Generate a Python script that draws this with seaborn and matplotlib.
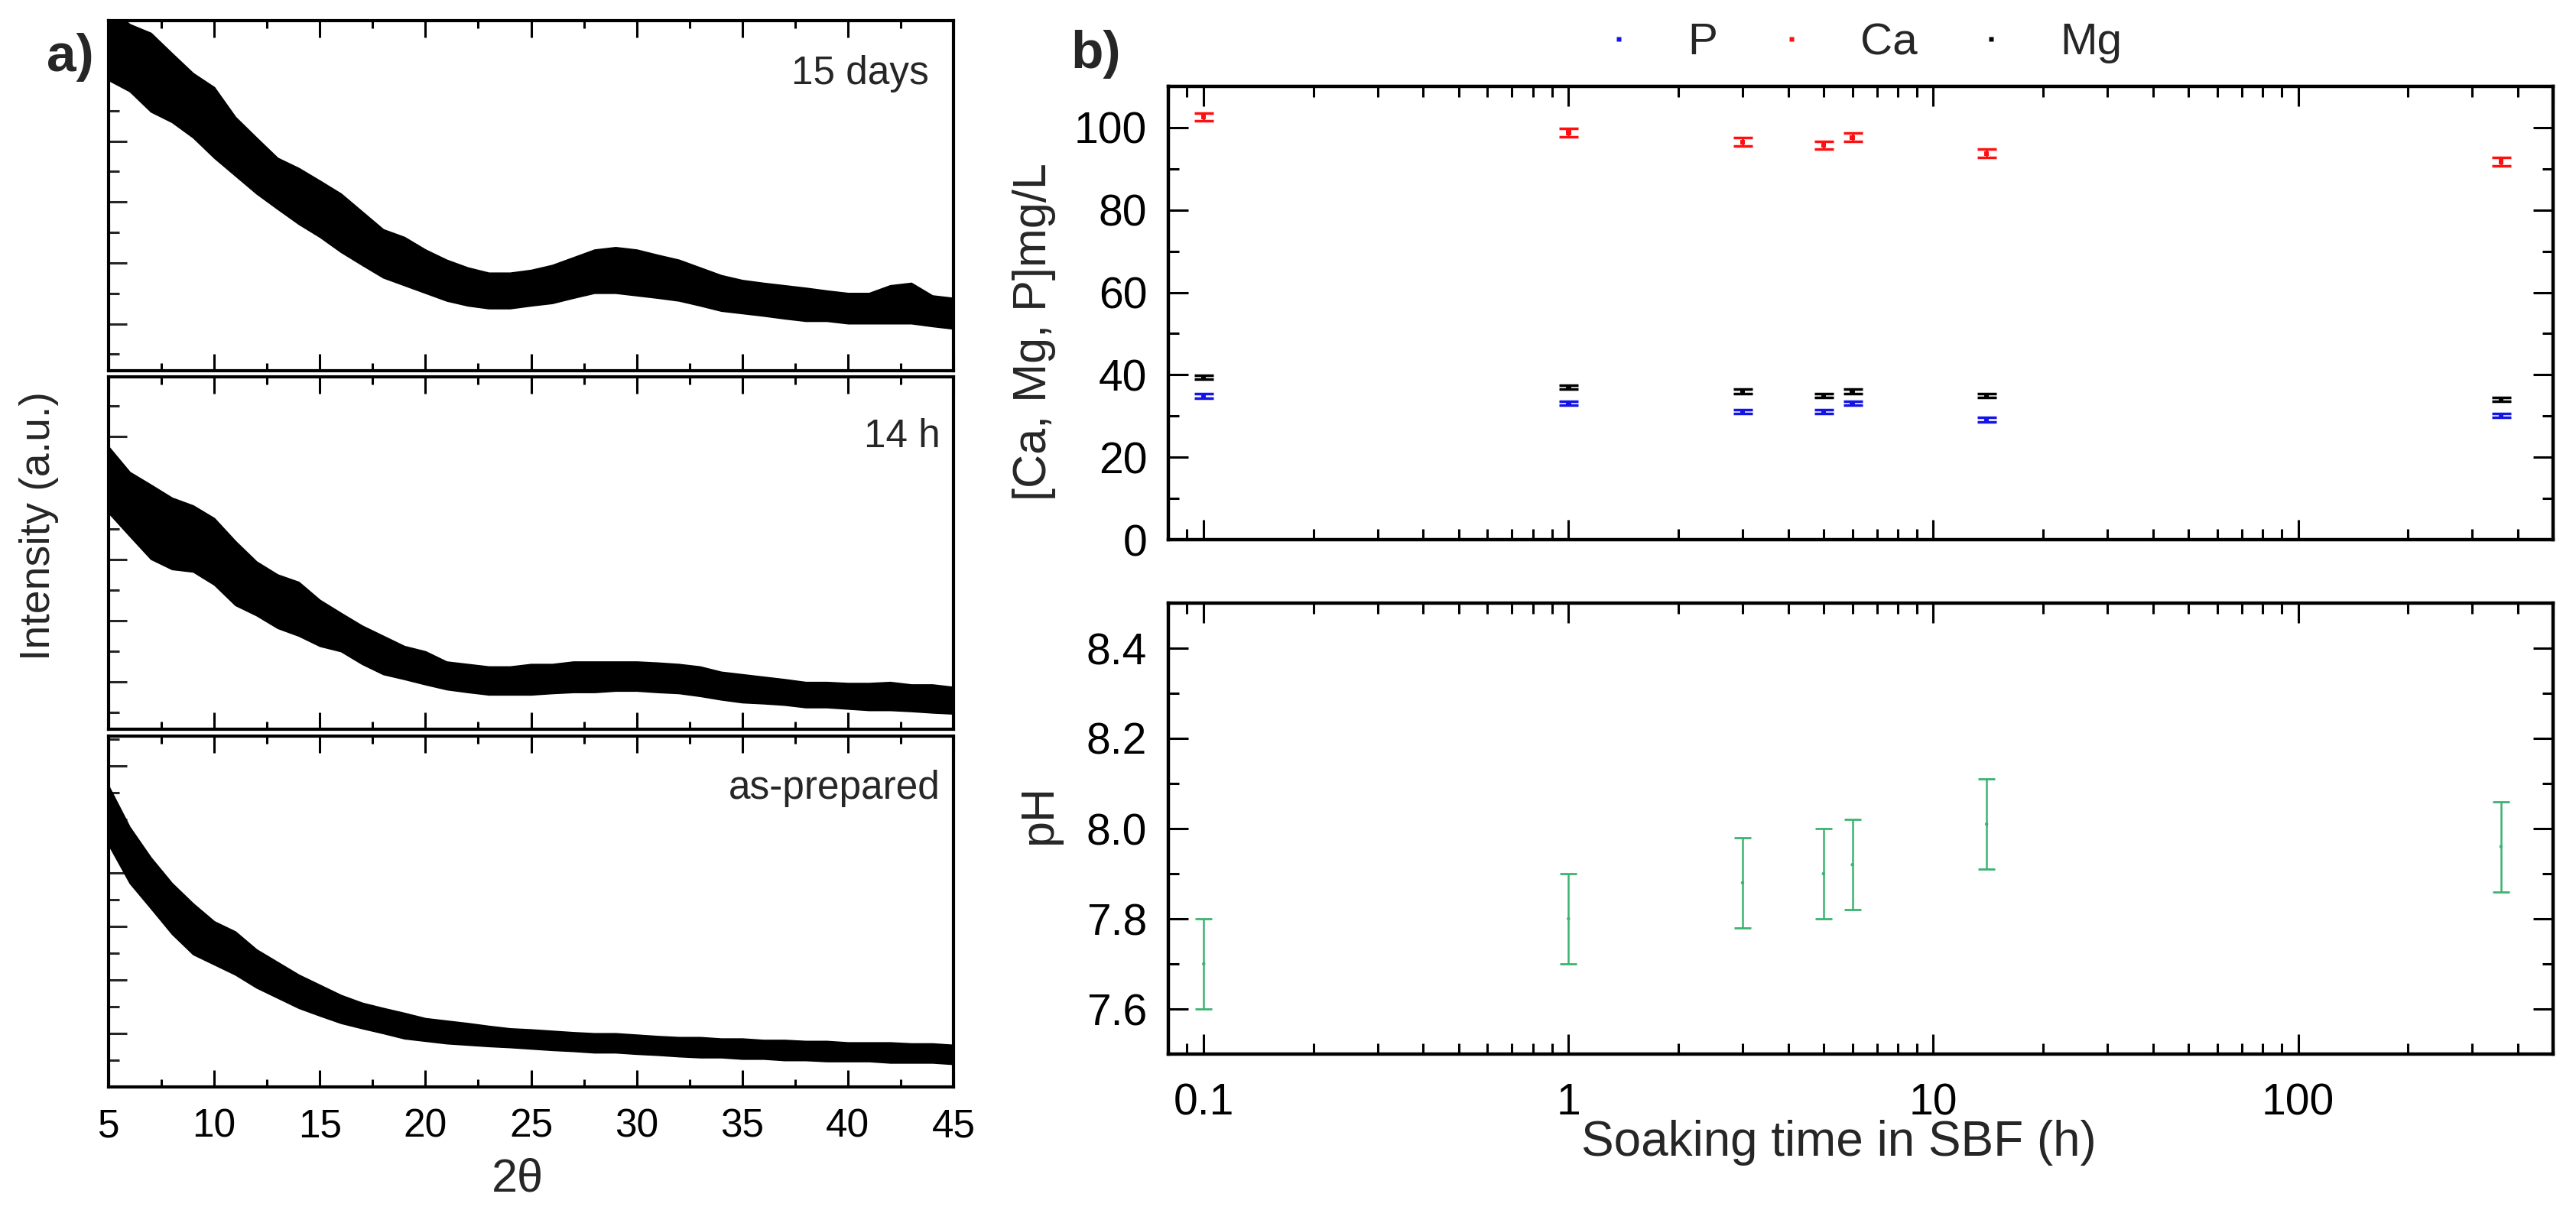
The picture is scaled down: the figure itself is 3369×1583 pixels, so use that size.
import numpy as np
import pandas as pd
import seaborn as sns
import matplotlib.pyplot as plt
from matplotlib.ticker import MultipleLocator, FixedLocator, LogLocator, NullFormatter, FixedFormatter

# ---- panel a) XRD envelopes (percent of panel height) ----
two_theta = list(range(5, 46))
days15_upper = [104, 99, 96.5, 90.7, 85, 81, 72.5, 66.6, 60.8, 57.9, 54.3, 50.6, 45.5, 40.4,
                38.2, 34.6, 31.7, 29.5, 28, 28, 28.8, 30.2, 32.4, 34.6, 35.3, 34.6, 33.1, 31.7,
                29.5, 27.3, 25.9, 25.1, 24.4, 23.7, 22.9, 22.2, 22.2, 24.4, 25.1, 21.5, 20.8]
days15_lower = [83, 79.8, 74, 71, 66.6, 60.8, 55.7, 50.6, 46.2, 41.9, 38.2, 33.9, 30.2, 26.6,
                24.4, 22.2, 20, 18.6, 17.8, 17.8, 18.6, 19.3, 20.8, 22.2, 22.2, 21.5, 20.8, 20,
                18.6, 17.1, 16.4, 15.7, 14.9, 14.2, 14.2, 13.5, 13.5, 13.5, 13.5, 12.7, 12]
h14_upper = [80.2, 73, 69.4, 65.7, 63.5, 59.9, 53.4, 47.6, 43.9, 41.8, 36.7, 33, 29.4, 26.5,
             23.6, 22.1, 19.2, 18.5, 17.8, 17.8, 18.5, 18.5, 19.2, 19.2, 19.2, 19.2, 18.9, 18.5,
             17.8, 16.3, 15.6, 14.9, 14.2, 13.4, 13.4, 13.1, 13.1, 13.4, 12.7, 12.7, 12]
h14_lower = [61.4, 54.8, 48.3, 45.4, 44.7, 41, 35.2, 32.3, 28.7, 26.5, 23.6, 22.1, 18.5, 15.6,
             14.2, 12.7, 11.3, 10.5, 9.8, 9.8, 9.8, 10.2, 10.5, 10.5, 10.9, 10.9, 10.5, 10.2,
             9.4, 8.4, 7.6, 7.3, 6.9, 6.2, 6.2, 5.8, 5.4, 5.4, 5.1, 4.7, 4.4]
prep_upper = [85.8, 74.1, 65.4, 58.1, 52.3, 47.2, 44.3, 39.2, 35.6, 32, 29.1, 26.2, 24, 22.5,
              21.1, 19.6, 18.9, 18.2, 17.4, 16.7, 16.4, 16, 15.6, 15.3, 15.3, 14.9, 14.5, 14.2,
              14.2, 13.8, 13.8, 13.4, 13.4, 13.1, 13.1, 12.7, 12.7, 12.7, 12.4, 12.4, 12]
prep_lower = [69, 58.1, 50.9, 43.6, 37.8, 34.9, 32, 28.3, 25.4, 22.5, 20.3, 18.2, 16.7, 15.3,
              13.8, 13.1, 12.4, 12, 11.6, 11.3, 10.9, 10.5, 10.2, 9.8, 9.8, 9.4, 9.1, 8.7,
              8.4, 8.4, 8, 8, 7.6, 7.6, 7.3, 7.3, 7.3, 6.9, 6.9, 6.9, 6.5]
xrd_names = ["15 days", "14 h", "as-prepared"]

# ---- panel b) ion concentrations and pH ----
soak_time = [0.1, 1, 3, 5, 6, 14, 360]
ca = [102.6, 98.8, 96.5, 95.7, 97.6, 93.7, 91.7]
mg = [39.4, 37.0, 36.0, 35.0, 36.0, 35.0, 34.0]
p = [34.9, 33.1, 31.1, 31.1, 33.1, 29.1, 30.1]
ca_err = [1, 1, 1, 1, 1, 1, 1]
mg_err = [0.5, 0.5, 0.5, 0.5, 0.5, 0.5, 0.5]
p_err = [0.5, 0.5, 0.5, 0.5, 0.5, 0.5, 0.5]
ph = [7.70, 7.80, 7.88, 7.90, 7.92, 8.01, 7.96]
ph_err = [0.1, 0.1, 0.1, 0.1, 0.1, 0.1, 0.1]
time_ticks = [0.1, 1, 10, 100]
time_labels = ["0.1", "1", "10", "100"]

ion_colors = {"P": "#1414e6", "Ca": "#ff1010", "Mg": "#000000"}
ph_color = "#3cb371"

sns.set_theme(style="ticks")
plt.rcParams['font.family'] = ['Liberation Sans', 'DejaVu Sans']
plt.rcParams['axes.linewidth'] = 3.0
plt.rcParams['xtick.direction'] = 'in'
plt.rcParams['ytick.direction'] = 'in'

W, H = 3369, 1583
fig = plt.figure(figsize=(W / 100, H / 100), dpi=100)


def px_axes(x0, y0, x1, y1):
    return fig.add_axes([x0 / W, 1 - y1 / H, (x1 - x0) / W, (y1 - y0) / H])


# ================= a) =================
xrd_boxes = [(142, 27, 1247, 485), (142, 493, 1247, 954), (142, 963, 1247, 1422)]
xrd_data = [(days15_upper, days15_lower), (h14_upper, h14_lower), (prep_upper, prep_lower)]
label_pos = [(0.971, 0.819), (0.984, 0.800), (0.984, 0.821)]
tick_sets = [(np.arange(13.4, 100, 17.4), np.arange(4.7, 100, 17.4)),
             (np.arange(13.4, 100, 17.4), np.arange(4.7, 100, 17.4)),
             (np.arange(15.26, 100, 15.26), np.arange(7.63, 100, 15.26))]

for i, (box, (up, lo)) in enumerate(zip(xrd_boxes, xrd_data)):
    ax = px_axes(*box)
    df = pd.DataFrame({"2theta": two_theta, "upper": up, "lower": lo})
    df["mid"] = (df["upper"] + df["lower"]) / 2
    ax.fill_between(df["2theta"], df["lower"], df["upper"], color="black", lw=1.2)
    sns.lineplot(data=df, x="2theta", y="mid", color="black", lw=1.5, ax=ax)
    ax.set_xlim(5, 45)
    ax.set_ylim(0, 100)
    ax.set_xlabel("")
    ax.set_ylabel("")
    ax.xaxis.set_major_locator(MultipleLocator(5))
    ax.xaxis.set_minor_locator(MultipleLocator(2.5))
    ax.yaxis.set_major_locator(FixedLocator(tick_sets[i][0]))
    ax.yaxis.set_minor_locator(FixedLocator(tick_sets[i][1]))
    ax.tick_params(axis="x", which="both", top=True, bottom=True, width=2.2,
                   labelsize=37, pad=20, colors="black")
    ax.tick_params(axis="x", which="major", length=15.5)
    ax.tick_params(axis="x", which="minor", length=7.5)
    ax.tick_params(axis="y", which="both", left=True, right=False, labelleft=False, width=2.2)
    ax.tick_params(axis="y", which="major", length=17)
    ax.tick_params(axis="y", which="minor", length=10)
    if i < 2:
        ax.tick_params(axis="x", labelbottom=False)
    for s in ax.spines.values():
        s.set_color("black")
    ax.text(label_pos[i][0], label_pos[i][1], xrd_names[i], transform=ax.transAxes,
            ha="right", va="baseline", fontsize=37)

fig.text(0.2010, 0.0253, "2θ", ha="center", va="center", fontsize=44)
fig.text(0.0151, 0.5654, "Intensity (a.u.)", rotation=90, ha="center", va="center", fontsize=40)
fig.text(0.0273, 0.9526, "a)", ha="center", va="center", fontsize=50, fontweight="bold")
fig.text(0.4254, 0.9551, "b)", ha="center", va="center", fontsize=50, fontweight="bold")

# ================= b) =================
ax_ion = px_axes(1528, 113, 3339, 706)
ax_ph = px_axes(1528, 789, 3339, 1379)

ions = pd.DataFrame({
    "time": soak_time * 3,
    "conc": p + ca + mg,
    "err": p_err + ca_err + mg_err,
    "ion": ["P"] * 7 + ["Ca"] * 7 + ["Mg"] * 7,
})
for ion, sub in ions.groupby("ion", sort=False):
    ax_ion.errorbar(sub["time"], sub["conc"], yerr=sub["err"], fmt="none",
                    ecolor=ion_colors[ion], elinewidth=2, capsize=9, capthick=2.5)
sns.scatterplot(data=ions, x="time", y="conc", hue="ion", palette=ion_colors,
                marker="s", s=22, edgecolor="none", ax=ax_ion)

ph_df = pd.DataFrame({"time": soak_time, "pH": ph, "err": ph_err})
ax_ph.errorbar(ph_df["time"], ph_df["pH"], yerr=ph_df["err"], fmt="none",
               ecolor=ph_color, elinewidth=1.8, capsize=8, capthick=2)
sns.scatterplot(data=ph_df, x="time", y="pH", color=ph_color, s=10, edgecolor="none", ax=ax_ph)

for ax in (ax_ion, ax_ph):
    ax.set_xscale("log")
    ax.set_xlim(0.08, 500)
    ax.set_xlabel("")
    ax.set_ylabel("")
    ax.xaxis.set_major_locator(FixedLocator(time_ticks))
    ax.xaxis.set_major_formatter(FixedFormatter(time_labels))
    ax.xaxis.set_minor_locator(LogLocator(base=10, subs=np.arange(2, 10), numticks=20))
    ax.xaxis.set_minor_formatter(NullFormatter())
    ax.tick_params(which="both", top=True, bottom=True, left=True, right=True,
                   width=2.2, colors="black")
    ax.tick_params(which="major", length=19)
    ax.tick_params(which="minor", length=10)
    ax.tick_params(axis="y", labelsize=41, pad=20)
    ax.tick_params(axis="x", labelsize=41, pad=27)
    for s in ax.spines.values():
        s.set_color("black")
        s.set_linewidth(3.2)

ax_ion.set_ylim(0, 110)
ax_ion.yaxis.set_major_locator(MultipleLocator(20))
ax_ion.yaxis.set_minor_locator(MultipleLocator(10))
ax_ion.tick_params(axis="x", labelbottom=False)

ax_ph.set_ylim(7.5, 8.5)
ax_ph.yaxis.set_major_locator(MultipleLocator(0.2))
ax_ph.yaxis.set_minor_locator(MultipleLocator(0.1))
ax_ph.yaxis.set_major_formatter(plt.FormatStrFormatter("%.1f"))

handles, labels = ax_ion.get_legend_handles_labels()
ax_ion.legend(handles, labels, loc="center", bbox_to_anchor=(0.495, 1.096), ncol=3,
              frameon=False, fontsize=42, handlelength=1.5, handletextpad=0.8,
              columnspacing=0.9, markerscale=0.9, borderaxespad=0)

fig.text(0.7139, 0.0556, "Soaking time in SBF (h)", ha="center", va="center", fontsize=46)
fig.text(0.4016, 0.7258, "[Ca, Mg, P]mg/L", rotation=90, ha="center", va="center", fontsize=44)
fig.text(0.4034, 0.3266, "pH", rotation=90, ha="center", va="center", fontsize=44)

fig.savefig("out.png", dpi=100, facecolor="white")
